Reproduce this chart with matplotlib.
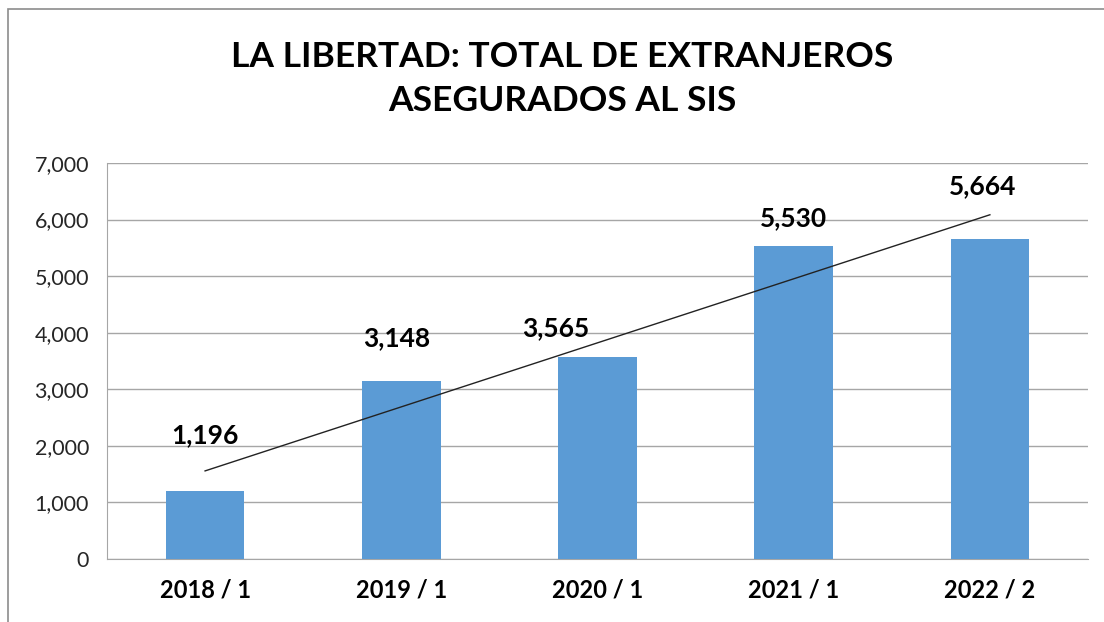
import numpy as np
import matplotlib.pyplot as plt
from matplotlib.patches import Rectangle
from matplotlib.ticker import FuncFormatter

# Datos
periodos = ['2018 / 1', '2019 / 1', '2020 / 1', '2021 / 1', '2022 / 2']
asegurados = [1196, 3148, 3565, 5530, 5664]

# desplazamiento de etiquetas (pixeles)
label_dx = [0, -5, -42, 0, -7]
label_dy = [56, 43, 29, 28, 52]

plt.rcParams['font.family'] = ['Lato', 'DejaVu Sans']

fig = plt.figure(figsize=(11.04, 6.22), dpi=100)
ax = fig.add_axes([0.0969, 0.1013, 0.8886, 0.6367])

# marco exterior
fig.patches.append(Rectangle((0.0072, -0.02), 1.0, 1.0055, transform=fig.transFigure,
                             fill=False, edgecolor='#8c8c8c', linewidth=1.2))

x = np.arange(len(periodos))
ax.bar(x, asegurados, width=0.40, color='#5b9bd5', zorder=3)

# linea de tendencia lineal
m, b = np.polyfit(x + 1, asegurados, 1)
ax.plot([x[0], x[-1]], [m * 1 + b, m * len(x) + b], color='#222222', linewidth=1.0, zorder=4)

for xi, v, dx, dy in zip(x, asegurados, label_dx, label_dy):
    ax.annotate(f'{v:,}', (xi, v), xytext=(dx, dy), textcoords='offset pixels',
                ha='center', va='center', fontsize=19, fontweight='bold', color='black')

ax.set_xlim(-0.5, len(x) - 0.5)
ax.set_ylim(0, 7000)
ax.set_yticks(range(0, 7001, 1000))
ax.yaxis.set_major_formatter(FuncFormatter(lambda v, p: f'{int(v):,}'))
ax.set_xticks(x)
ax.set_xticklabels(periodos, fontsize=17, fontweight='bold')
ax.tick_params(axis='y', labelsize=15.5, length=0, pad=13, colors='#262626')
ax.tick_params(axis='x', length=0, pad=14)
ax.grid(axis='y', color='#a6a6a6', linewidth=1.0, zorder=0)

for s in ['top', 'right']:
    ax.spines[s].set_visible(False)
ax.spines['left'].set_color('#a6a6a6')
ax.spines['bottom'].set_color('#a6a6a6')

fig.text(0.509, 0.873, 'LA LIBERTAD: TOTAL DE EXTRANJEROS\nASEGURADOS AL SIS', ha='center', va='center',
         fontsize=25.5, fontweight='bold', linespacing=1.45)

fig.savefig('out.png', dpi=100)
